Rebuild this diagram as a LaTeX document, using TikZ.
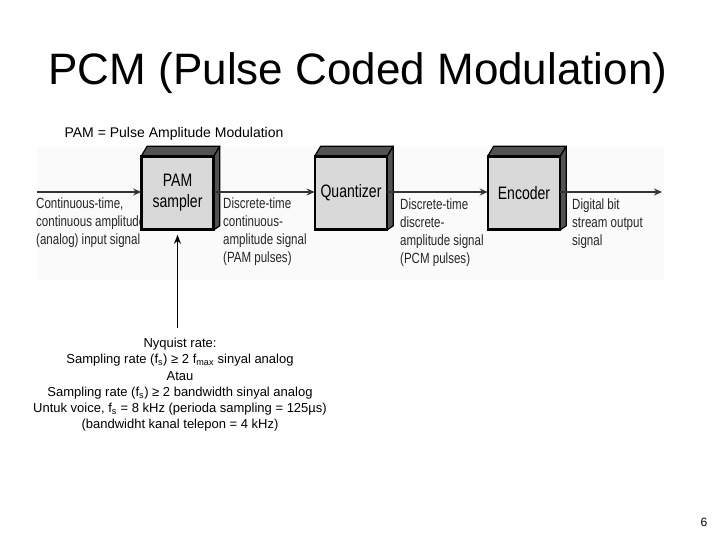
\documentclass[tikz,border=0pt]{standalone}
\usepackage{fontspec}
\setmainfont{Liberation Sans}
\newfontfamily\diag[FakeStretch=0.78]{Liberation Sans}
\usetikzlibrary{arrows.meta}
\tikzset{
  blk/.style={draw=black, line width=1.6pt, fill=gray!30, minimum width=71pt, minimum height=72pt, inner sep=0pt,
    align=center, font=\diag\fontsize{18}{22}\selectfont},
  side/.style={draw=black, line width=1.2pt, fill=black!68, line join=round},
  lbl/.style={anchor=north west, inner sep=0pt, align=left, text=black!85, font=\diag\fontsize{14.8}{18}\selectfont},
  harr/.style={draw=black!80, line width=1.3pt, -{Stealth[length=8pt,width=7pt]}},
  varr/.style={draw=black, line width=1.8pt, -{Stealth[length=9pt,width=7pt]}},
}
\begin{document}
\begin{tikzpicture}[x=1pt,y=-1pt]
\useasboundingbox (0,0) rectangle (720,540);
\fill[white] (0,0) rectangle (720,540);
% faint background of the embedded figure
\fill[gray!4] (37,147) rectangle (664,280);

\node[font=\fontsize{44}{50}\selectfont] (title) at (358,73) {PCM (Pulse Coded Modulation)};
\node[font=\fontsize{14}{16}\selectfont] (sub) at (174,134) {PAM = Pulse Amplitude Modulation};

% labels (drawn first so the boxes cover overflow)
\node[lbl] (l1) at (36,198) {Continuous-time,\\continuous amplitude\\(analog) input signal};
\node[lbl] (l2) at (223,198) {Discrete-time\\continuous-\\amplitude signal\\(PAM pulses)};
\node[lbl] (l3) at (400,199) {Discrete-time\\discrete-\\amplitude signal\\(PCM pulses)};
\node[lbl] (l4) at (572,199) {Digital bit\\stream output\\signal};

% blocks
\foreach \n/\x/\t in {pam/177.5/{PAM\\[-1pt]sampler}, qua/351/Quantizer, enc/524/Encoder}{
  \node[blk] (\n) at (\x,193) {\t};
  \draw[side] (\n.north west) -- ++(6,-10) -- ([shift={(6,-10)}]\n.north east) -- (\n.north east) -- cycle;
  \draw[side] (\n.north east) -- ++(6,-10) -- ([shift={(6,-4)}]\n.south east) -- (\n.south east) -- cycle;
  \draw[line width=1.6pt] (\n.north west) rectangle (\n.south east);
}

\coordinate (in) at (37,192);
\coordinate (out) at (662,192);
\draw[harr] (in) -- (pam.west |- in);
\draw[harr] (pam.east |- in) -- (qua.west |- in);
\draw[harr] (qua.east |- in) -- (enc.west |- in);
\draw[harr] (enc.east |- in) -- (out);

\node[align=center, anchor=north, inner sep=0pt, font=\fontsize{13}{16.2}\selectfont] (nyq) at (180,338)
 {Nyquist rate:\\
  Sampling rate (f\textsubscript{s}) ≥ 2 f\textsubscript{max} sinyal analog\\
  Atau\\
  Sampling rate (f\textsubscript{s}) ≥ 2 bandwidth sinyal analog\\
  Untuk voice, f\textsubscript{s} = 8 kHz (perioda sampling = 125µs)\\
  (bandwidht kanal telepon = 4 kHz)};
\draw[varr, shorten <=10pt, shorten >=5pt] (nyq.north -| pam) -- (pam.south);

\node[font=\fontsize{12}{14}\selectfont] (pg) at (704,522) {6};
\end{tikzpicture}
\end{document}
